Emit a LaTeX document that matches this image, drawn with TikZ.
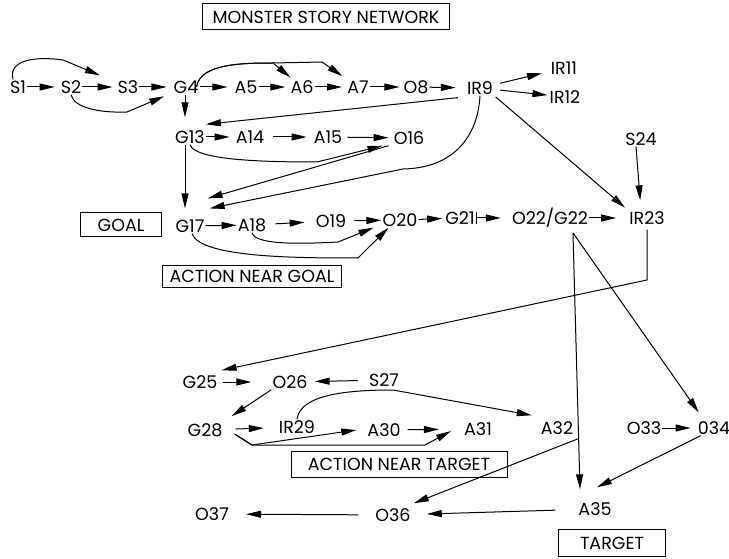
\documentclass[tikz,border=0pt]{standalone}
\usepackage{fontspec}
\setmainfont{Poppins}
\usetikzlibrary{arrows.meta,calc}

\begin{document}
\begin{tikzpicture}[x=1pt,y=-1pt,
  lbl/.style={inner sep=1pt, font=\fontsize{17.5}{17.5}\selectfont},
  tag/.style={draw, line width=1pt, inner sep=0pt, font=\fontsize{17.5}{17.5}\selectfont},
  ln/.style={line width=1pt},
  arr/.style={line width=1pt, -{Triangle[length=15pt,width=7pt]}}]

\useasboundingbox (0,0) rectangle (729,559);

% labelled boxes
\node[tag, minimum width=247pt, minimum height=26pt] (title) at (326,17) {MONSTER STORY NETWORK};
\node[tag, minimum width=81pt, minimum height=24pt] (goal) at (121,225) {GOAL};
\node[tag, minimum width=179pt, minimum height=22pt] (nearG) at (252,276) {ACTION NEAR GOAL};
\node[tag, minimum width=216pt, minimum height=26pt] (nearT) at (399,464) {ACTION NEAR TARGET};
\node[tag, minimum width=107pt, minimum height=27pt] (target) at (612,543) {TARGET};

% story states
\node[lbl] (S1) at (18,87) {S1};
\node[lbl] (S2) at (71,87) {S2};
\node[lbl] (S3) at (128,87) {S3};
\node[lbl] (G4) at (186,87) {G4};
\node[lbl] (A5) at (246,87) {A5};
\node[lbl] (A6) at (302,87) {A6};
\node[lbl] (A7) at (358,87) {A7};
\node[lbl] (O8) at (416,87) {O8};
\node[lbl] (IR9) at (480,88) {IR9};
\node[lbl] (IR11) at (564,68) {IR11};
\node[lbl] (IR12) at (565,97) {IR12};
\node[lbl] (G13) at (190,137) {G13};
\node[lbl] (A14) at (250,137) {A14};
\node[lbl] (A15) at (328,137) {A15};
\node[lbl] (O16) at (409,138) {O16};
\node[lbl] (G17) at (190,226) {G17};
\node[lbl] (A18) at (252,225) {A18};
\node[lbl] (O19) at (331,221) {O19};
\node[lbl] (O20) at (400,220) {O20};
\node[lbl] (G21) at (460,218) {G21};
\node[lbl] (O22) at (550,218) {O22/G22};
\node[lbl] (IR23) at (647,218) {IR23};
\node[lbl] (S24) at (641,139) {S24};
\node[lbl] (G25) at (200,382) {G25};
\node[lbl] (O26) at (290,382) {O26};
\node[lbl] (S27) at (384,380) {S27};
\node[lbl] (G28) at (205,430) {G28};
\node[lbl] (IR29) at (297,427) {IR29};
\node[lbl] (A30) at (384,430) {A30};
\node[lbl] (A31) at (478,429) {A31};
\node[lbl] (A32) at (557,428) {A32};
\node[lbl] (O33) at (644,428) {O33};
\node[lbl] (N34) at (714,428) {034};
\node[lbl] (A35) at (595,509) {A35};
\node[lbl] (O36) at (393,515) {O36};
\node[lbl] (O37) at (212,514) {O37};

% bend points of the routed connectors
\coordinate (k1) at (63,60);
\coordinate (k2) at (127,112);
\coordinate (k4a) at (273,63);
\coordinate (k4b) at (322,62);
\coordinate (k9) at (403,169);
\coordinate (k13) at (317,162);
\coordinate (k18) at (338,242);
\coordinate (k17) at (358,258);
\coordinate (k23) at (647,280);
\coordinate (k28) at (252,445);
\coordinate (k28b) at (425,445);
\coordinate (k29) at (393,390);

% first row
\draw[arr,shorten >=5pt] (S1) -- (S2);
\draw[arr,shorten >=4pt] (S2) -- (S3);
\draw[arr,shorten >=6pt] (S3) -- (G4);
\draw[arr,shorten >=6pt] (G4) -- (A5);
\draw[arr,shorten >=4pt] (A5) -- (A6);
\draw[arr,shorten >=4pt] (A6) -- (A7);
\draw[arr,shorten >=3pt] (A7) -- (O8);
\draw[arr,shorten >=10pt] (O8) -- (IR9);
\draw[arr,shorten <=6pt,shorten >=8pt] (IR9) -- (IR11);
\draw[arr,shorten <=6pt,shorten >=1pt] (IR9) -- (IR12);
\draw[arr,shorten >=18pt] ($(S1.north)+(-5,0)$) .. controls (8,60) and (35,56) .. (k1) -- (S3);
\draw[arr,shorten >=9pt] (S2.south) .. controls (74,108) and (100,113) .. (k2) -- (G4);
\draw[arr,shorten >=3pt] ($(G4.east)+(-3,0)$) .. controls (200,64) and (240,63) .. (k4a) -- (A6);
\draw[arr,shorten >=6pt] ($(G4.east)+(-3,0)$) .. controls (200,64) and (240,63) .. (k4a) -- (k4b) -- (A7);

% second row
\draw[arr,shorten >=12pt] ($(G4.south)+(-1,0)$) -- ($(G13.north)+(-5,0)$);
\draw[arr] ($(IR9.south west)+(-8,2)$) -- ($(G13.north east)+(0,-5)$);
\draw[arr,shorten >=5pt] (G13) -- (A14);
\draw[arr,shorten <=8pt,shorten >=6pt] (A14) -- (A15);
\draw[arr,shorten <=4pt,shorten >=4pt] (A15) -- (O16);
\draw[arr] (G13.south) .. controls (195,160) and (260,162) .. (k13) -- ($(O16.south west)+(-10,0)$);
\draw[arr] ($(O16.south west)+(-4,0)$) -- ($(G17.north east)+(2,-20)$);
\draw[arr] (IR9.south) .. controls (478,135) and (455,168) .. (k9) -- ($(G17.north east)+(4,-10)$);
\draw[arr,shorten >=10pt] ($(G13.south)+(-5,0)$) -- ($(G17.north)+(-5,0)$);

% third row
\draw[arr] (G17) -- (A18);
\draw[arr,shorten <=8pt,shorten >=10pt] (A18) -- (O19);
\draw[arr,shorten <=7pt] (O19) -- (O20);
\draw[arr,shorten >=2pt] (O20) -- (G21);
\draw[arr,{Bar[width=12pt]}-{Triangle[length=15pt,width=7pt]},shorten >=10pt] (G21) -- (O22);
\draw[arr,shorten >=12pt] (O22) -- (IR23);
\draw[arr] (A18.south) .. controls (255,245) and (300,244) .. (k18) -- ($(O20.south west)+(-8,0)$);
\draw[arr] ($(G17.south)+(2,0)$) .. controls (200,258) and (300,258) .. (k17) -- ($(O20.south west)+(7,0)$);
\draw[arr,shorten <=2pt,shorten >=4pt] (IR9.south east) -- (IR23.north west);
\draw[arr,shorten >=10pt] ($(S24.south)+(-5,0)$) -- ($(IR23.north)+(-6,0)$);

% routes down to the lower network
\draw[arr] ($(IR23.south)+(0,4)$) -- (k23) -- ($(G25.north east)+(3,-4)$);
\draw[arr] ($(O22.south)+(23,4)$) -- ($(A35.north)+(-15,-12)$);
\draw[arr] ($(O22.south)+(23,4)$) -- ($(N34.north west)+(2,-8)$);

% lower network
\draw[arr,shorten <=4pt,shorten >=20pt] (G25) -- (O26);
\draw[arr,shorten <=10pt,shorten >=6pt] (S27) -- (O26);
\draw[arr] (O26.south west) -- ($(G28.north east)+(8,-6)$);
\draw[arr,shorten <=12pt,shorten >=14pt] (G28) -- (IR29);
\draw[arr] ($(G28.east)+(11,4)$) -- (k28) -- ($(A30.west)+(-10,0)$);
\draw[arr] ($(G28.east)+(11,4)$) -- (k28) -- (k28b) -- ($(A31.west)+(-12,2)$);
\draw[arr] (IR29.north) .. controls (300,395) and (345,390) .. (k29) -- ($(A32.north west)+(-8,-5)$);
\draw[arr,shorten <=6pt,shorten >=24pt] (A30) -- (A31);
\draw[arr,shorten >=6pt] (O33) -- (N34);
\draw[arr] ($(N34.south west)+(4,0)$) -- ($(A35.north)+(2,-14)$);
\draw[arr] ($(A32.south east)+(4,3)$) -- ($(O36.north east)+(2,-4)$);
\draw[arr,shorten <=22pt,shorten >=15pt] (A35) -- (O36);
\draw[arr,shorten <=16pt,shorten >=16pt] (O36) -- (O37);

\end{tikzpicture}
\end{document}
